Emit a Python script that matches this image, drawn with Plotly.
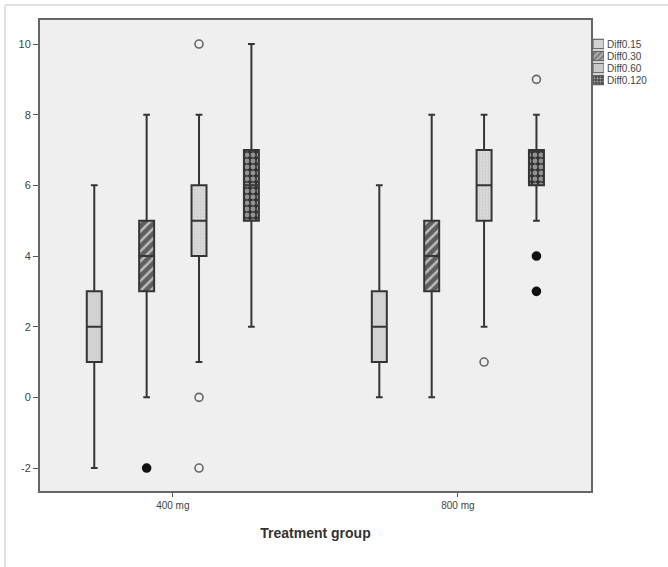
import plotly.graph_objects as go

groups = ["400 mg", "800 mg"]
series = ["Diff0.15", "Diff0.30", "Diff0.60", "Diff0.120"]
y_ticks = [-2, 0, 2, 4, 6, 8, 10]
y_ticktext = ["-2", "0", "2", "4", "6", "8", "10"]

# Box statistics per series (400 mg, 800 mg)
lower_015 = [-2, 0]; q1_015 = [1, 1]; med_015 = [2, 2]; q3_015 = [3, 3]; upper_015 = [6, 6]
lower_030 = [0, 0]; q1_030 = [3, 3]; med_030 = [4, 4]; q3_030 = [5, 5]; upper_030 = [8, 8]
lower_060 = [1, 2]; q1_060 = [4, 5]; med_060 = [5, 6]; q3_060 = [6, 7]; upper_060 = [8, 8]
lower_0120 = [2, 5]; q1_0120 = [5, 6]; med_0120 = [6, 7]; q3_0120 = [7, 7]; upper_0120 = [10, 8]

# Outliers: (group, value, filled?)
out_015 = []
out_030 = [("400 mg", -2, True)]
out_060 = [("400 mg", 10, False), ("400 mg", 0, False), ("400 mg", -2, False), ("800 mg", 1, False)]
out_0120 = [("800 mg", 9, False), ("800 mg", 4, True), ("800 mg", 3, True)]

stats = [
    (lower_015, q1_015, med_015, q3_015, upper_015, out_015),
    (lower_030, q1_030, med_030, q3_030, upper_030, out_030),
    (lower_060, q1_060, med_060, q3_060, upper_060, out_060),
    (lower_0120, q1_0120, med_0120, q3_0120, upper_0120, out_0120),
]

# fill styles per series
pat_shape = ["", "/", ".", "."]
pat_bg = ["#d2d2d2", "#bdbdbd", "#dadada", "#333333"]
pat_fg = ["#d2d2d2", "#000000", "#bcbcbc", "#f2f2f2"]
pat_size = [6, 7, 3, 6]
pat_sol = [0.3, 0.65, 0.3, 0.5]

GAP = 0.265
GROUPGAP = 0.714
W, H = 668, 567
ML, MR, MT, MB = 40, 5, 20, 76
PW = W - ML - MR
PH = H - MT - MB
XDOM_END = 551 / PW

fig = go.Figure()

# patterned box bodies (bars from q1 to q3)
for i, (name, (lo, q1, md, q3, up, outs)) in enumerate(zip(series, stats)):
    fig.add_trace(go.Bar(
        x=groups, y=[b - a for a, b in zip(q1, q3)], base=q1, name=name,
        marker=dict(color=pat_bg[i], line=dict(width=0),
                    pattern=dict(shape=pat_shape[i], bgcolor=pat_bg[i], fgcolor=pat_fg[i],
                                 size=pat_size[i], solidity=pat_sol[i])),
        showlegend=False, hoverinfo="skip",
    ))

# box outlines, medians, whiskers
for name, (lo, q1, md, q3, up, outs) in zip(series, stats):
    fig.add_trace(go.Box(
        x=groups, q1=q1, median=md, q3=q3, lowerfence=lo, upperfence=up,
        name=name, showlegend=False,
        fillcolor="rgba(0,0,0,0)", line=dict(color="#353535", width=2),
        whiskerwidth=0.45, boxpoints=False,
    ))

# outliers
for name, (lo, q1, md, q3, up, outs) in zip(series, stats):
    xs = [o[0] for o in outs] or [groups[0]]
    ys = [o[1] for o in outs] or [None]
    syms = ["circle" if o[2] else "circle-open" for o in outs] or ["circle"]
    cols = ["#111111" if o[2] else "#666666" for o in outs] or ["#111111"]
    fig.add_trace(go.Scatter(
        x=xs, y=ys, mode="markers", name=name, showlegend=False,
        marker=dict(symbol=syms, size=8, color=cols, line=dict(width=1.6, color=cols)),
        hoverinfo="skip",
    ))

# legend swatches (drawn as a small bar chart on its own axes)
fig.add_trace(go.Bar(
    x=[1] * len(series), y=series, orientation="h", xaxis="x2", yaxis="y2",
    width=0.78, showlegend=False, hoverinfo="skip",
    marker=dict(color=pat_bg, line=dict(width=1, color="#555555"),
                pattern=dict(shape=pat_shape, bgcolor=pat_bg, fgcolor=pat_fg,
                             size=[4, 4, 2, 3], solidity=pat_sol)),
))

fig.update_layout(
    width=W, height=H,
    margin=dict(l=ML, r=MR, t=MT, b=MB),
    paper_bgcolor="white", plot_bgcolor="#efefef",
    barmode="group", bargap=GAP, bargroupgap=GROUPGAP,
    boxmode="group", boxgap=GAP, boxgroupgap=GROUPGAP,
    scattermode="group", scattergap=GAP,
    showlegend=False,
    font=dict(family="Liberation Sans, Arial, sans-serif", color="#333333", size=10),
    xaxis=dict(type="category", range=[-0.466, 1.467], domain=[0, XDOM_END], showgrid=False,
               showline=True, linecolor="#666666", linewidth=2, mirror=True,
               ticks="outside", ticklen=4, tickcolor="#555555",
               tickfont=dict(size=10, color="#444444"),
               title=dict(text="<b>Treatment group</b>", font=dict(size=14, color="#333333"), standoff=18)),
    yaxis=dict(range=[-2.65, 10.68], tickvals=y_ticks, ticktext=y_ticktext, showgrid=False,
               zeroline=False, showline=True, linecolor="#666666", linewidth=2, mirror=True,
               ticks="outside", ticklen=5, tickcolor="#555555",
               tickfont=dict(size=11, color="#444444")),
    xaxis2=dict(domain=[(593 - ML) / PW, (604 - ML) / PW], range=[0, 1], anchor="y2",
                visible=False, fixedrange=True),
    yaxis2=dict(domain=[1 - (86 - MT) / PH, 1 - (38 - MT) / PH], anchor="x2",
                type="category", autorange="reversed", side="right",
                tickmode="array", tickvals=series, ticktext=series,
                showline=False, showgrid=False, zeroline=False, ticks="",
                ticklabelstandoff=2,
                tickfont=dict(size=10, color="#444444"), fixedrange=True),
    shapes=[
        dict(type="line", xref="paper", yref="paper", x0=-(ML - 5) / PW, x1=1.05,
             y0=1 + (MT - 5) / PH, y1=1 + (MT - 5) / PH, line=dict(color="#e2e2e2", width=2)),
        dict(type="line", xref="paper", yref="paper", x0=-(ML - 5) / PW, x1=-(ML - 5) / PW,
             y0=1 + (MT - 5) / PH, y1=-0.2, line=dict(color="#e2e2e2", width=2)),
    ],
)

fig.write_html(
    "out.html",
    config={"responsive": False, "displayModeBar": False},
    post_script=(
        "document.body.style.margin='0';document.body.style.overflow='hidden';"
        "var gd=document.getElementById('{plot_id}');"
        "Plotly.relayout(gd,{width:%d,height:%d});" % (W, H)
    ),
)
